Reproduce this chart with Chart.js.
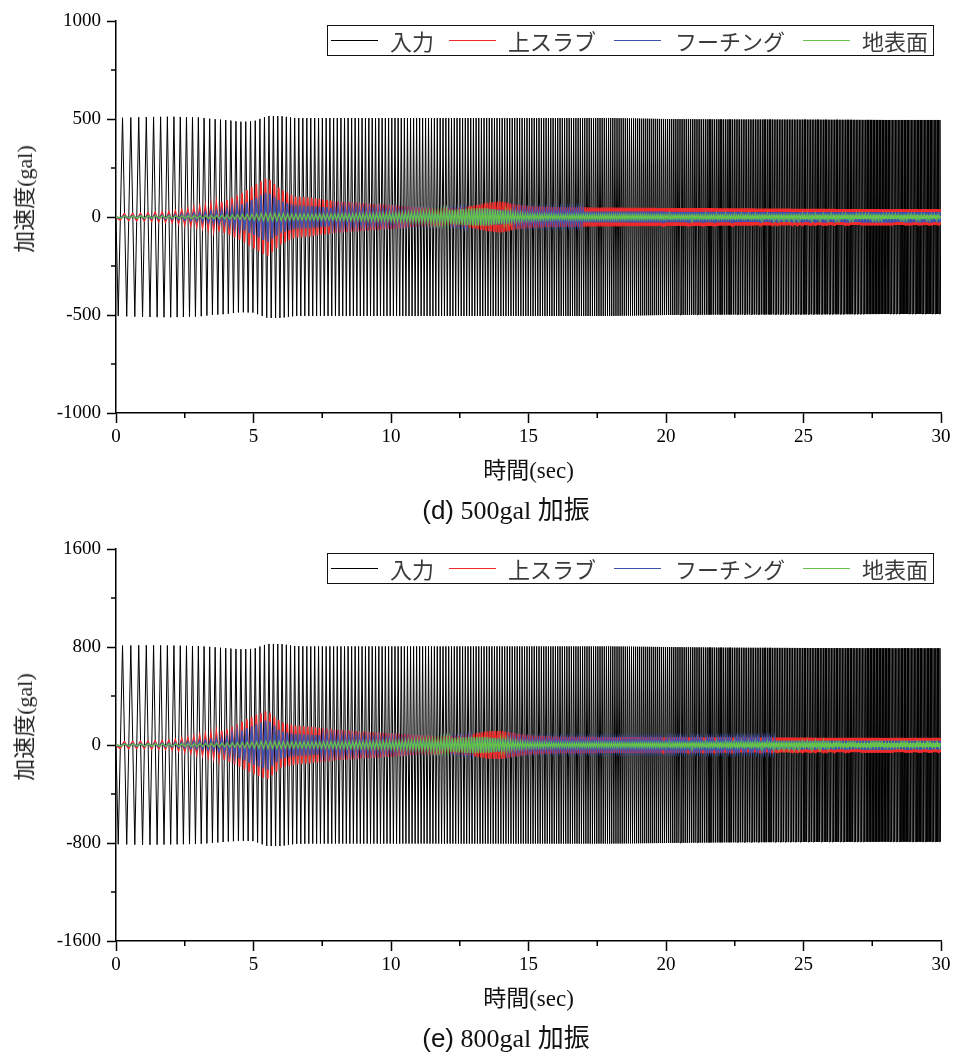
<!DOCTYPE html>
<html>
<head>
<meta charset="utf-8">
<script src="https://cdn.jsdelivr.net/npm/chart.js@4.4.0/dist/chart.umd.min.js"></script>
<style>
  html, body { margin: 0; padding: 0; background: #fff; }
  body { width: 954px; height: 1054px; position: relative; overflow: hidden; }
  .panel { position: absolute; left: 0; width: 954px; height: 490px; }
  .panel canvas { position: absolute; left: 0; top: 0; }
  .legend { position: absolute; left: 327px; top: 25px; width: 607px; height: 31px;
            border: 1px solid #111; box-sizing: border-box; background: #fff; }
  .legend .ln { position: absolute; top: 14px; height: 0; width: 47px; border-top: 1px solid #000; }
  .legend .tx { position: absolute; top: 0; line-height: 29px; font-family: "Noto Sans CJK JP", sans-serif;
                font-size: 22px; color: #3a3a3a; white-space: nowrap; }
  .ytitle { position: absolute; left: 22px; top: 199px; transform: translate(-50%, -50%) rotate(-90deg);
            white-space: nowrap; font-size: 22px; color: #222; }
  .caption { position: absolute; left: 306px; width: 400px; text-align: center; white-space: nowrap;
             font-size: 26px; color: #111; line-height: 30px; }
  .sans { font-family: "Liberation Sans", Arial, sans-serif; }
  .serif { font-family: "Liberation Serif", "Times New Roman", serif; }
  .cjk { font-family: "Noto Sans CJK JP", sans-serif; }
</style>
</head>
<body>

<div class="panel" id="p1" style="top:0px;">
  <canvas id="c1" width="954" height="490"></canvas>
  <div class="ytitle"><span class="cjk">加速度</span><span class="serif">(gal)</span></div>
  <div class="legend">
    <div class="ln" style="left:3px;border-color:#000;"></div><div class="tx" style="left:62px;">入力</div>
    <div class="ln" style="left:121px;border-color:#f02a2a;"></div><div class="tx" style="left:180px;">上スラブ</div>
    <div class="ln" style="left:286px;border-color:#3d52ad;"></div><div class="tx" style="left:347px;">フーチング</div>
    <div class="ln" style="left:475px;border-color:#66c24a;"></div><div class="tx" style="left:534px;">地表面</div>
  </div>
</div>
<div class="caption" style="top:493px;"><span class="sans">(d)</span> <span class="serif">500gal</span> <span class="cjk">加振</span></div>

<div class="panel" id="p2" style="top:528px;">
  <canvas id="c2" width="954" height="490"></canvas>
  <div class="ytitle"><span class="cjk">加速度</span><span class="serif">(gal)</span></div>
  <div class="legend">
    <div class="ln" style="left:3px;border-color:#000;"></div><div class="tx" style="left:62px;">入力</div>
    <div class="ln" style="left:121px;border-color:#f02a2a;"></div><div class="tx" style="left:180px;">上スラブ</div>
    <div class="ln" style="left:286px;border-color:#3d52ad;"></div><div class="tx" style="left:347px;">フーチング</div>
    <div class="ln" style="left:475px;border-color:#66c24a;"></div><div class="tx" style="left:534px;">地表面</div>
  </div>
</div>
<div class="caption" style="top:1021px;"><span class="sans">(e)</span> <span class="serif">800gal</span> <span class="cjk">加振</span></div>

<script>
// ---------------- data ----------------
const seriesLabels = ['入力', '上スラブ', 'フーチング', '地表面'];

// times (sec) at which the amplitude envelopes were read
const envTimes   = [0, 1, 2, 3, 3.5, 4, 4.5, 5, 5.5, 6, 6.5, 7, 8, 9, 10, 11, 12, 12.5, 13, 13.5, 14, 14.5, 15, 16, 18, 20, 22, 25, 28, 30];

// (d) 500 gal: peak amplitude (gal) of each record at envTimes
const input500   = [505, 510, 512, 508, 500, 495, 486, 488, 515, 515, 505, 505, 505, 505, 505, 505, 505, 505, 505, 505, 505, 505, 505, 505, 505, 500, 498, 497, 495, 495];
const slab500    = [15, 18, 25, 45, 60, 85, 115, 160, 200, 140, 105, 100, 80, 70, 60, 48, 45, 47, 58, 72, 80, 64, 55, 50, 48, 46, 45, 42, 40, 40];
const footing500 = [5, 7, 10, 20, 27, 35, 60, 90, 128, 80, 60, 57, 45, 38, 32, 28, 27, 30, 38, 42, 38, 30, 28, 28, 28, 27, 26, 25, 25, 25];
const ground500  = [5, 6, 6, 7, 8, 10, 12, 15, 20, 18, 15, 15, 16, 18, 20, 25, 35, 40, 44, 44, 35, 20, 15, 12, 12, 10, 9, 8, 7, 6];

// (e) 800 gal
const input800   = [810, 815, 812, 808, 800, 790, 782, 785, 825, 825, 808, 805, 805, 805, 805, 805, 805, 805, 805, 805, 805, 805, 805, 805, 805, 800, 795, 792, 790, 790];
const slab800    = [25, 28, 35, 68, 90, 125, 180, 238, 280, 185, 160, 150, 125, 108, 95, 78, 72, 75, 90, 112, 115, 95, 78, 68, 65, 63, 62, 60, 58, 58];
const footing800 = [8, 10, 15, 30, 40, 60, 110, 160, 205, 110, 90, 85, 68, 58, 50, 42, 40, 45, 55, 60, 55, 45, 40, 38, 36, 35, 35, 34, 34, 34];
const ground800  = [8, 9, 10, 12, 14, 16, 20, 25, 30, 27, 25, 25, 27, 29, 32, 40, 55, 62, 68, 66, 50, 30, 22, 18, 17, 16, 16, 16, 16, 16];

// sweep frequency (Hz) read from the spacing of the input cycles
const freqTimes  = [0, 5, 10, 15, 20, 25, 30];
const freqHz     = [3.1, 5.85, 8.6, 11.35, 14.1, 16.85, 19.6];

// phase lag of each response relative to the input (cycles)
const phaseLag   = [0, 0.22, 0.22, 0.3];

// axes
const xTicksMajor = [0, 5, 10, 15, 20, 25, 30];
const xTicksMinor = [2.5, 7.5, 12.5, 17.5, 22.5, 27.5];
const yTicks500      = [-1000, -500, 0, 500, 1000];
const yTicksMinor500 = [-750, -250, 250, 750];
const yTicks800      = [-1600, -800, 0, 800, 1600];
const yTicksMinor800 = [-1200, -400, 400, 1200];

const colors = ['#000000', '#f02a2a', '#3d52ad', '#66c24a'];
const widths = [1, 1.8, 1.8, 1.3];

// ---------------- helpers ----------------
function lerpAt(xs, ys, t) {
  if (t <= xs[0]) return ys[0];
  for (let i = 1; i < xs.length; i++) {
    if (t <= xs[i]) {
      const r = (t - xs[i - 1]) / (xs[i] - xs[i - 1]);
      return ys[i - 1] + r * (ys[i] - ys[i - 1]);
    }
  }
  return ys[ys.length - 1];
}

// alternating peak points of a record: one point per half cycle of the sweep
function peaksOf(envelope, lag) {
  const pts = [{ x: 0, y: 0 }];
  let phase = 0, t = 0, sign = -1;
  const dt = 0.0002;
  let mark = 0.25 + lag;
  while (t < 30) {
    phase += lerpAt(freqTimes, freqHz, t) * dt;
    t += dt;
    if (phase >= mark) {
      pts.push({ x: t, y: sign * lerpAt(envTimes, envelope, t) });
      sign = -sign;
      mark += 0.5;
    }
  }
  return pts;
}

const minorTickPlugin = {
  id: 'minorTicks',
  afterDraw(chart, args, opts) {
    const { ctx } = chart;
    const xs = chart.scales.x, ys = chart.scales.y;
    ctx.save();
    ctx.strokeStyle = '#000';
    ctx.lineWidth = 1.5;
    ctx.beginPath();
    for (const v of opts.x) {
      const px = xs.getPixelForValue(v);
      ctx.moveTo(px, ys.bottom);
      ctx.lineTo(px, ys.bottom + 5);
    }
    for (const v of opts.y) {
      const py = ys.getPixelForValue(v);
      ctx.moveTo(xs.left, py);
      ctx.lineTo(xs.left - 5, py);
    }
    ctx.stroke();
    ctx.restore();
  }
};

function makeChart(canvasId, records, yTicks, yMinor) {
  const H = 490;
  const datasets = [];
  // draw order: index 0 on top -> ground, footing, slab, input
  for (const i of [3, 2, 1, 0]) {
    datasets.push({
      label: seriesLabels[i],
      data: peaksOf(records[i], phaseLag[i]),
      borderColor: colors[i],
      borderWidth: widths[i],
      pointRadius: 0,
      tension: 0,
      fill: false
    });
  }
  const tickFont = { family: "'Liberation Serif', 'Times New Roman', serif", size: 19 };
  return new Chart(document.getElementById(canvasId), {
    type: 'line',
    data: { datasets },
    options: {
      animation: false,
      responsive: false,
      events: [],
      parsing: false,
      normalized: true,
      layout: { padding: { top: 21, right: 13, left: 0, bottom: 0 } },
      plugins: {
        legend: { display: false },
        tooltip: { enabled: false },
        minorTicks: { x: xTicksMinor, y: yMinor }
      },
      scales: {
        x: {
          type: 'linear', min: 0, max: 30,
          afterBuildTicks: s => { s.ticks = xTicksMajor.map(v => ({ value: v })); },
          ticks: { font: tickFont, color: '#000', padding: 3, maxRotation: 0, autoSkip: false,
                   callback: v => String(v) },
          grid: { drawOnChartArea: false, drawTicks: true, tickLength: 10, tickColor: '#000', tickWidth: 1.5 },
          border: { color: '#000', width: 1.5 },
          title: { display: true, text: '時間(sec)', color: '#111',
                   font: { family: "'Liberation Serif', 'Noto Sans CJK JP', serif", size: 23 },
                   padding: { top: 0, bottom: 4 } },
          afterFit: s => { s.height = H - 413; }
        },
        y: {
          type: 'linear', min: yTicks[0], max: yTicks[yTicks.length - 1],
          afterBuildTicks: s => { s.ticks = yTicks.map(v => ({ value: v })); },
          ticks: { font: tickFont, color: '#000', padding: 6, callback: v => String(v) },
          grid: { drawOnChartArea: false, drawTicks: true, tickLength: 9, tickColor: '#000', tickWidth: 1.5 },
          border: { color: '#000', width: 1.5 },
          afterFit: s => { s.width = 116; }
        }
      }
    },
    plugins: [minorTickPlugin]
  });
}

makeChart('c1', [input500, slab500, footing500, ground500], yTicks500, yTicksMinor500);
makeChart('c2', [input800, slab800, footing800, ground800], yTicks800, yTicksMinor800);
</script>
</body>
</html>
